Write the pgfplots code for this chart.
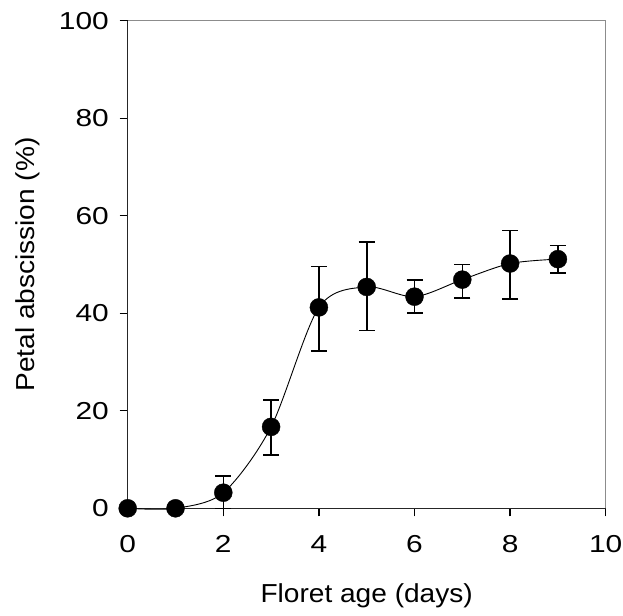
\documentclass[border=0pt]{standalone}
\usepackage{pgfplots}
\usepackage{pgfplotstable}
\pgfplotsset{compat=1.18}
\usepackage{fontspec}
\setmainfont{Liberation Sans}[FakeStretch=1.08]
\newfontfamily\tickfont{Liberation Sans}[FakeStretch=1.22]
\pgfplotstableread{
x y ep em
0 0 0 0
1 0 0 0
2 3.2 3.4 3.2
3 16.7 5.5 5.8
4 41.2 8.4 9.0
5 45.4 9.2 8.9
6 43.4 3.4 3.3
7 46.9 3.1 3.8
8 50.2 6.8 7.3
9 51.1 2.8 2.9
}\datatable
\begin{document}
\begin{tikzpicture}
\begin{axis}[name=ax, scale only axis, width=478pt, height=487.6pt,
 xmin=0,xmax=10,ymin=0,ymax=100,
 xtick={0,2,...,10}, ytick={0,20,...,100},
 axis x line*=bottom, axis y line*=left,
 axis line style={line width=1.6pt, -, black!85},
 tick align=outside, major tick length=8pt, tick style={black, line width=1.3pt},
 clip=false,
 /pgf/number format/assume math mode=true,
 tick label style={font=\tickfont\fontsize{24.5}{29}\selectfont},
 yticklabel style={xshift=-7.3pt},
 xticklabel style={yshift=-15.5pt},
 xlabel={Floret age (days)}, ylabel={Petal abscission (\%)},
 label style={font=\fontsize{26}{31}\selectfont},
 xlabel style={at={(axis description cs:0.5,-0.1936)}, anchor=base},
 ylabel style={at={(axis description cs:-0.19456,0.5)}, anchor=base},
]
\draw[black!45, line width=1.3pt] (rel axis cs:0,1) -- (rel axis cs:1,1) -- (rel axis cs:1,0);
\addplot[black, line width=0.9pt, smooth, tension=0.5, mark=none] table[x=x,y=y] {\datatable};
\addplot[only marks, mark=*, mark size=9pt, black,
  error bars/.cd, y dir=both, y explicit,
  error bar style={line width=1.6pt,black},
  error mark options={rotate=90, mark size=8pt, line width=1.6pt, black}]
  table[x=x,y=y,y error plus=ep,y error minus=em] {\datatable};
\end{axis}
\pgfresetboundingbox
\path ([xshift=-127.7pt,yshift=-106.7pt]ax.south west) rectangle ([xshift=17.3pt,yshift=20.7pt]ax.north east);
\end{tikzpicture}
\end{document}
